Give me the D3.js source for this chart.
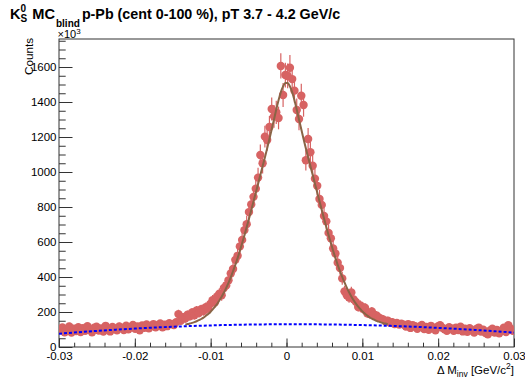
<!DOCTYPE html>
<html>
<head>
<meta charset="utf-8">
<script src="https://cdn.jsdelivr.net/npm/d3@7"></script>
<style>
  body { margin: 0; background: #fff; }
  svg { display: block; font-family: "Liberation Sans", Arial, Helvetica, sans-serif; }
</style>
</head>
<body>
<svg id="chart"></svg>
<script>
// Histogram: 200 bins of 0.0003 GeV/c^2 between -0.03 and 0.03, counts in units of 10^3
const xMin = -0.03, xMax = 0.03, binWidth = 0.0003;
const yMax = 1760;

const counts = [
  96, 112, 84, 101, 118, 82, 104, 91, 113, 86,
  107, 93, 119, 98, 84, 110, 116, 94, 106, 88,
  121, 100, 89, 114, 105, 95, 118, 108, 97, 122,
  101, 113, 126, 104, 117, 96, 123, 110, 129, 107,
  119, 131, 112, 124, 134, 113, 127, 119, 136,
  131, 125, 142, 188, 150, 171, 162, 184, 176, 198,
  181, 209, 194, 216, 205, 228, 219, 246, 268, 255,
  289, 305, 296, 338, 352, 381, 420, 446, 498, 521,
  575, 612, 668, 702, 771, 815, 858, 905, 968, 1097,
  1050, 1202, 1183, 1257, 1360, 1318, 1341, 1309, 1606, 1440,
  1554,
  1549, 1596, 1531, 1465, 1354, 1303, 1436, 1383, 1067, 1189,
  1113, 1036, 962, 921, 846, 812, 749, 718, 652, 621,
  563, 534, 482, 451, 392, 318, 296, 283, 312, 272,
  258, 229, 238, 219, 224, 193, 188, 203, 185, 181,
  169, 162, 158, 147, 151, 139, 142, 131, 137, 128,
  133,
  128, 117, 131, 109, 125, 119, 104, 118, 126, 103,
  115, 98, 121, 107, 96, 118, 124, 110, 101, 93,
  113, 104, 92, 111, 97, 116, 89, 105, 87, 108,
  95, 82, 103, 111, 88, 99, 80, 72, 95, 104,
  83, 97, 78, 91, 110, 86, 124, 104, 92
];

const countErr = [
  18, 19, 17, 18, 20, 16, 18, 17, 19, 17,
  19, 17, 20, 18, 17, 19, 19, 17, 19, 17,
  20, 18, 17, 19, 18, 18, 20, 19, 18, 20,
  18, 19, 20, 18, 19, 18, 20, 19, 20, 19,
  20, 21, 19, 20, 21, 19, 20, 20, 21,
  21, 20, 21, 25, 22, 24, 23, 24, 24, 25,
  24, 26, 25, 26, 26, 27, 27, 28, 29, 29,
  31, 31, 31, 33, 34, 35, 37, 38, 40, 41,
  43, 45, 47, 48, 50, 51, 53, 54, 56, 60,
  58, 62, 62, 64, 66, 65, 66, 65, 72, 68,
  71,
  71, 72, 70, 69, 66, 65, 68, 67, 59, 62,
  60, 58, 56, 55, 52, 51, 49, 48, 46, 45,
  43, 42, 40, 38, 36, 32, 31, 30, 32, 30,
  29, 27, 28, 27, 27, 25, 25, 26, 24, 24,
  23, 23, 23, 22, 22, 21, 21, 21, 21, 20,
  21,
  20, 19, 21, 19, 20, 20, 18, 20, 20, 18,
  19, 18, 20, 19, 18, 20, 20, 19, 18, 17,
  19, 18, 17, 19, 18, 19, 17, 18, 17, 19,
  18, 16, 18, 19, 17, 18, 16, 15, 18, 18,
  16, 18, 16, 17, 19, 17, 20, 18, 17
];

// total fit (signal + background) evaluated at bin centres 55..144
const fitFirstBin = 55;
const fitValues = [
  128, 131, 134, 138, 142, 147, 153, 160, 168, 178,
  188, 199, 214, 229, 246, 266, 287, 311, 338, 367,
  398, 433, 469, 508, 549, 593, 638, 685, 733, 782,
  832, 882, 932, 983, 1033, 1083, 1135, 1189, 1244, 1300,
  1357, 1410, 1456, 1489, 1508,
  1508, 1489, 1456, 1410, 1357, 1300, 1244, 1189, 1136, 1084,
  1034, 984, 933, 883, 833, 783, 734, 686, 639, 594,
  550, 509, 470, 434, 400, 369, 339, 313, 289, 267,
  248, 231, 216, 201, 190, 180, 170, 162, 156, 149,
  145, 141, 136, 134, 130
];

// background component of the fit
const bkgX = [-0.03, -0.0275, -0.025, -0.0225, -0.02, -0.0175, -0.015, -0.0125, -0.01,
  -0.0075, -0.005, -0.0025, 0, 0.0025, 0.005, 0.0075, 0.01, 0.0125, 0.015,
  0.0175, 0.02, 0.0225, 0.025, 0.0275, 0.03];
const bkgValues = [76, 84.4, 92.1, 99.1, 105.3, 110.9, 115.8, 119.9, 123.3,
  126.1, 128.1, 129.4, 130, 129.9, 129.1, 127.6, 125.3, 122.4, 118.8,
  114.4, 109.3, 103.6, 97.1, 89.9, 82];

const xTicks = [-0.03, -0.02, -0.01, 0, 0.01, 0.02, 0.03];
const xTickLabels = ['-0.03', '-0.02', '-0.01', '0', '0.01', '0.02', '0.03'];
const yTicks = [0, 200, 400, 600, 800, 1000, 1200, 1400, 1600];

const W = 525, H = 383;
const frame = {left: 59, right: 514, top: 39, bottom: 347};
const markerColor = '#d76363';

const svg = d3.select('#chart').attr('width', W).attr('height', H);

const x = d3.scaleLinear().domain([xMin, xMax]).range([frame.left, frame.right]);
const y = d3.scaleLinear().domain([0, yMax]).range([frame.bottom, frame.top]);

svg.append('clipPath').attr('id', 'clip')
  .append('rect')
    .attr('x', frame.left).attr('y', frame.top)
    .attr('width', frame.right - frame.left).attr('height', frame.bottom - frame.top);

const binCenter = i => xMin + binWidth * (i + 0.5);
const points = counts.map((v, i) => ({x: binCenter(i), v: v, e: countErr[i]}));

// axes (ticks point inwards, ROOT style)
function styleAxis(g) {
  g.select('.domain').remove();
  g.attr('font-family', null).attr('font-size', 11.5);
  g.selectAll('line').attr('stroke', '#333');
  g.selectAll('text').attr('fill', '#000');
}

svg.append('g')
  .attr('transform', `translate(0,${frame.bottom})`)
  .call(d3.axisBottom(x).tickValues(d3.range(-15, 16).map(k => k * 0.002))
    .tickSizeInner(-4.3).tickSizeOuter(0).tickFormat(''))
  .call(styleAxis);

svg.append('g')
  .attr('transform', `translate(0,${frame.bottom})`)
  .call(d3.axisBottom(x).tickValues(xTicks)
    .tickSizeInner(-8.5).tickSizeOuter(0).tickPadding(5)
    .tickFormat((d, i) => xTickLabels[i]))
  .call(styleAxis);

svg.append('g')
  .attr('transform', `translate(${frame.left},0)`)
  .call(d3.axisLeft(y).tickValues(d3.range(0, 36).map(k => k * 50))
    .tickSizeInner(-6.7).tickSizeOuter(0).tickFormat(''))
  .call(styleAxis);

svg.append('g')
  .attr('transform', `translate(${frame.left},0)`)
  .call(d3.axisLeft(y).tickValues(yTicks)
    .tickSizeInner(-13.5).tickSizeOuter(0).tickPadding(2.5)
    .tickFormat(d3.format('d')))
  .call(styleAxis);

// frame
svg.append('rect')
  .attr('x', frame.left).attr('y', frame.top)
  .attr('width', frame.right - frame.left).attr('height', frame.bottom - frame.top)
  .attr('fill', 'none').attr('stroke', '#333').attr('stroke-width', 1);

const plot = svg.append('g').attr('clip-path', 'url(#clip)');

// error bars + markers
plot.append('g').selectAll('line')
  .data(points)
  .join('line')
    .attr('x1', d => x(d.x)).attr('x2', d => x(d.x))
    .attr('y1', d => y(d.v - d.e)).attr('y2', d => y(d.v + d.e))
    .attr('stroke', markerColor).attr('stroke-width', 1.2);

plot.append('g').selectAll('circle')
  .data(points)
  .join('circle')
    .attr('cx', d => x(d.x)).attr('cy', d => y(d.v))
    .attr('r', 4.2)
    .attr('fill', markerColor);

// total fit
const fitPts = fitValues.map((v, i) => [binCenter(fitFirstBin + i), v]);
plot.append('path')
  .datum(fitPts)
  .attr('fill', 'none')
  .attr('stroke', '#8a6446')
  .attr('stroke-width', 2)
  .attr('d', d3.line().x(d => x(d[0])).y(d => y(d[1])).curve(d3.curveMonotoneX));

// background
plot.append('path')
  .datum(bkgX.map((bx, i) => [bx, bkgValues[i]]))
  .attr('fill', 'none')
  .attr('stroke', '#0000ff')
  .attr('stroke-width', 2)
  .attr('stroke-dasharray', '3,2')
  .attr('d', d3.line().x(d => x(d[0])).y(d => y(d[1])).curve(d3.curveMonotoneX));

// x10^3 multiplier
const mult = svg.append('text').attr('x', 57.5).attr('y', 38).attr('font-size', 11);
mult.append('tspan').text('\u00d710');
mult.append('tspan').attr('font-size', 8).attr('dy', -4).text('3');

// y-axis title
svg.append('text')
  .attr('transform', `translate(33,38) rotate(-90)`)
  .attr('text-anchor', 'end')
  .attr('font-size', 11.7)
  .text('Counts');

// x-axis title
const xt = svg.append('text')
  .attr('x', frame.right).attr('y', 373.5)
  .attr('text-anchor', 'end')
  .attr('font-size', 11.5)
  .style('white-space', 'pre');
xt.append('tspan').text('\u0394 M');
xt.append('tspan').attr('font-size', 8.5).attr('dy', 3).text('inv');
xt.append('tspan').attr('dy', -3).text(' [GeV/c');
xt.append('tspan').attr('font-size', 8.5).attr('dy', -4.5).text('2');
xt.append('tspan').attr('dy', 4.5).text(']');

// title
const title = svg.append('g').attr('font-weight', 'bold').attr('fill', '#000');
let tx = 10;
function piece(txt, size, base, advance) {
  const t = title.append('text')
    .attr('x', tx).attr('y', base)
    .attr('font-size', size)
    .style('white-space', 'pre')
    .text(txt);
  const w = t.node().getComputedTextLength();
  if (advance) tx += w;
  return w;
}
piece('K', 14.6, 19, true);
const w0 = piece('0', 10, 11.5, false);
const wS = piece('S', 10, 21.5, false);
tx += Math.max(w0, wS) + 1;
piece(' MC', 14.6, 19, true);
tx += 1;
piece('blind', 10, 26.5, true);
tx += 2;
piece('p-Pb (cent 0-100 %), pT 3.7 - 4.2 GeV/c', 14.3, 19, true);
</script>
</body>
</html>
